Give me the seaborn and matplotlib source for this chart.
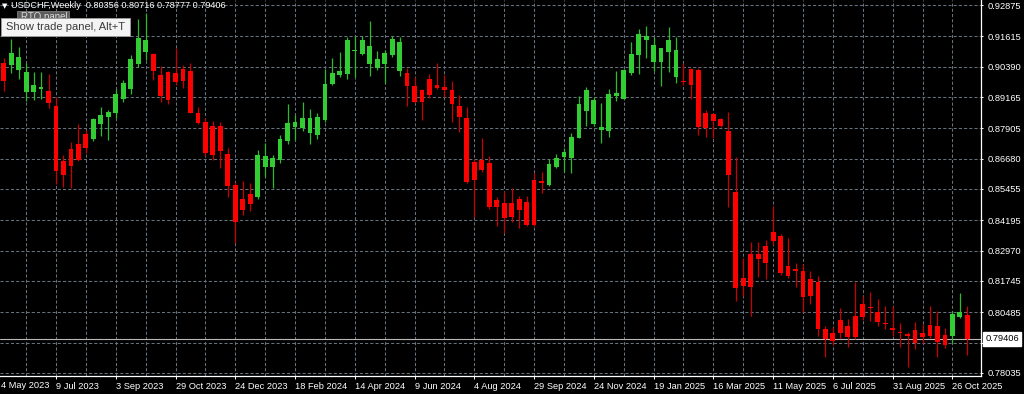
import matplotlib
matplotlib.use("Agg")
import numpy as np
import pandas as pd
import matplotlib.pyplot as plt
import seaborn as sns
from matplotlib.patches import Rectangle

# ---------------- data ----------------
symbol = "USDCHF"
timeframe = "Weekly"

week_index = list(range(-7, 123))

opens = [0.90524, 0.90456, 0.90254, 0.89379, 0.89379, 0.89476, 0.89407,
         0.88802, 0.86596, 0.87068, 0.87269, 0.87673, 0.87483, 0.88076, 0.88370,
         0.88508, 0.89104, 0.89476, 0.90496, 0.90992, 0.90887, 0.90052, 0.90193,
         0.90145, 0.90282, 0.90226, 0.88532, 0.88169, 0.88008, 0.88008, 0.86854,
         0.85616, 0.85043, 0.85253, 0.85120, 0.86354, 0.86354, 0.86624, 0.87403,
         0.87967, 0.87927, 0.87725, 0.87632, 0.88237, 0.89677, 0.90052, 0.90093,
         0.91020, 0.90899, 0.90496, 0.90347, 0.90496, 0.90859, 0.90226, 0.90145,
         0.89621, 0.89447, 0.89879, 0.89649, 0.89580, 0.89447, 0.88802, 0.88306,
         0.86556, 0.86624, 0.86491, 0.85011, 0.84902, 0.84902, 0.85039, 0.84942,
         0.85818, 0.85777, 0.85616, 0.86354, 0.86757, 0.86693, 0.87524, 0.88613,
         0.88076, 0.87834, 0.87794, 0.89205, 0.89096, 0.90121, 0.90859, 0.91464,
         0.90564, 0.90589, 0.90968, 0.89960, 0.89822, 0.90294, 0.90254, 0.88532,
         0.88467, 0.88278, 0.87774, 0.85346, 0.81853, 0.82833, 0.82833, 0.83156,
         0.83733, 0.83571, 0.82349, 0.82216, 0.82148, 0.81813, 0.81704, 0.79808,
         0.79659, 0.80171, 0.79929, 0.80345, 0.80817, 0.80708, 0.80482, 0.80063,
         0.79837, 0.79700, 0.79607, 0.79768, 0.79635, 0.79970, 0.79929, 0.79566,
         0.79538, 0.80305, 0.80356]

highs = [0.90750, 0.91504, 0.91194, 0.90548, 0.90161, 0.90185, 0.90081,
         0.89177, 0.86826, 0.87362, 0.88076, 0.87834, 0.88306, 0.88742, 0.88641,
         0.89500, 0.89851, 0.90859, 0.92311, 0.92553, 0.90927, 0.90427, 0.90214,
         0.91129, 0.90456, 0.90548, 0.88762, 0.88306, 0.88197, 0.88169, 0.87096,
         0.85749, 0.85765, 0.85685, 0.87027, 0.87322, 0.86826, 0.87632, 0.88883,
         0.88439, 0.88951, 0.88681, 0.88532, 0.90282, 0.90750, 0.90968, 0.91597,
         0.91625, 0.91625, 0.92242, 0.91020, 0.91060, 0.91625, 0.91573, 0.90322,
         0.89960, 0.89476, 0.90093, 0.90524, 0.90052, 0.89810, 0.89246, 0.88750,
         0.86652, 0.87499, 0.86786, 0.85120, 0.85374, 0.85483, 0.85184, 0.85172,
         0.86112, 0.86128, 0.86652, 0.86866, 0.87096, 0.87725, 0.89205, 0.89580,
         0.89153, 0.88911, 0.89476, 0.90214, 0.90282, 0.91395, 0.91895, 0.92028,
         0.91597, 0.91153, 0.92000, 0.91597, 0.90548, 0.90347, 0.90322, 0.88641,
         0.88532, 0.88306, 0.88572, 0.86733, 0.82672, 0.83337, 0.83337, 0.83410,
         0.84789, 0.83640, 0.83466, 0.82482, 0.82422, 0.82136, 0.81954, 0.79929,
         0.79901, 0.80643, 0.80200, 0.81692, 0.81151, 0.81313, 0.81006, 0.80748,
         0.80736, 0.80038, 0.79700, 0.80103, 0.79998, 0.80748, 0.80546, 0.79837,
         0.80546, 0.81248, 0.80716]

lows = [0.89407, 0.90121, 0.89879, 0.89004, 0.89044, 0.89096, 0.88733,
        0.85644, 0.85535, 0.85495, 0.86584, 0.86894, 0.87403, 0.87592, 0.87419,
        0.88330, 0.88955, 0.89286, 0.90387, 0.90657, 0.89851, 0.88975, 0.88883,
        0.89649, 0.89516, 0.88508, 0.88096, 0.86786, 0.86624, 0.86289, 0.85132,
        0.83265, 0.84406, 0.84567, 0.85063, 0.85951, 0.85507, 0.86515, 0.87269,
        0.87431, 0.87806, 0.87269, 0.87459, 0.88169, 0.89637, 0.89984, 0.89891,
        0.89960, 0.90859, 0.90024, 0.90254, 0.89742, 0.90790, 0.90012, 0.88802,
        0.88911, 0.88237, 0.89113, 0.89476, 0.89177, 0.88169, 0.87766, 0.85709,
        0.84313, 0.86152, 0.84648, 0.83962, 0.83668, 0.84136, 0.83894, 0.83974,
        0.83962, 0.85281, 0.85588, 0.86314, 0.86152, 0.86112, 0.87499, 0.87995,
        0.87995, 0.87322, 0.87564, 0.89004, 0.89072, 0.90040, 0.90081, 0.90750,
        0.90214, 0.89621, 0.90161, 0.89718, 0.89649, 0.89084, 0.87632, 0.87564,
        0.87499, 0.87967, 0.84741, 0.80938, 0.81139, 0.80345, 0.81918, 0.81813,
        0.83196, 0.81986, 0.81853, 0.81514, 0.80506, 0.80829, 0.79526, 0.78691,
        0.79163, 0.79458, 0.79070, 0.79405, 0.80171, 0.80143, 0.79929, 0.79808,
        0.79526, 0.79095, 0.78264, 0.78990, 0.79232, 0.79458, 0.78691, 0.79030,
        0.79232, 0.80264, 0.78777]

closes = [0.89810, 0.90927, 0.90790, 0.90161, 0.89649, 0.89580, 0.88911,
          0.86181, 0.86019, 0.86394, 0.86624, 0.87120, 0.88266, 0.88451, 0.88568,
          0.89286, 0.89742, 0.90698, 0.91532, 0.91464, 0.90226, 0.89205, 0.89044,
          0.89782, 0.89810, 0.88532, 0.88116, 0.86919, 0.86846, 0.86987, 0.85576,
          0.84112, 0.84608, 0.84838, 0.86826, 0.86798, 0.86693, 0.87471, 0.88104,
          0.88157, 0.88306, 0.88306, 0.88346, 0.89689, 0.90145, 0.90214, 0.91464,
          0.91060, 0.91464, 0.91234, 0.90685, 0.90927, 0.91504, 0.91395, 0.89621,
          0.88975, 0.88951, 0.89246, 0.89540, 0.89447, 0.88883, 0.88346, 0.85749,
          0.85818, 0.86241, 0.84741, 0.84717, 0.84297, 0.84337, 0.84608, 0.84003,
          0.84003, 0.85685, 0.86463, 0.86693, 0.86935, 0.87564, 0.88883, 0.89447,
          0.89044, 0.87967, 0.89286, 0.89338, 0.90254, 0.90899, 0.91694, 0.91625,
          0.91262, 0.91129, 0.91464, 0.91060, 0.89782, 0.89649, 0.87967, 0.87927,
          0.88197, 0.88008, 0.86019, 0.81474, 0.81555, 0.81514, 0.82632, 0.82458,
          0.83349, 0.82067, 0.81954, 0.82160, 0.81111, 0.81151, 0.79808, 0.79393,
          0.79337, 0.79659, 0.79474, 0.79474, 0.80280, 0.80667, 0.80103, 0.80010,
          0.79768, 0.79635, 0.79538, 0.79256, 0.79474, 0.79538, 0.79296, 0.79163,
          0.80413, 0.80482, 0.79406]

price_ticks = [0.92875, 0.91615, 0.90390, 0.89165, 0.87905, 0.86680, 0.85455,
               0.84195, 0.82970, 0.81745, 0.80485, 0.79260, 0.78035]
price_tick_labels = ["0.92875", "0.91615", "0.90390", "0.89165", "0.87905",
                     "0.86680", "0.85455", "0.84195", "0.82970", "0.81745",
                     "0.80485", "0.79260", "0.78035"]

date_tick_index = list(range(0, 121, 8))
date_tick_labels = ["9 Jul 2023", "3 Sep 2023", "29 Oct 2023", "24 Dec 2023",
                    "18 Feb 2024", "14 Apr 2024", "9 Jun 2024", "4 Aug 2024",
                    "29 Sep 2024", "24 Nov 2024", "19 Jan 2025", "16 Mar 2025",
                    "11 May 2025", "6 Jul 2025", "31 Aug 2025", "26 Oct 2025"]
first_date_label = "4 May 2023"
grid_minor_index = list(range(-4, 124, 8))

# ---------------- styling ----------------
sns.set_theme(style="dark", rc={"axes.facecolor": "black",
                                "figure.facecolor": "black"})
plt.rcParams["font.family"] = ["Liberation Sans", "DejaVu Sans"]

BULL = "#32CD32"
BEAR = "#FF0000"
BULL_WICK = "#2DBA2D"
BEAR_WICK = "#C80000"
GRID = "#66717F"
TXT = "white"
FS = 6.7

df = pd.DataFrame({"week": week_index, "open": opens, "high": highs,
                   "low": lows, "close": closes})
df["up"] = df["close"] >= df["open"]
df["body_low"] = df[["open", "close"]].min(axis=1)
df["body_h"] = (df["close"] - df["open"]).abs().clip(lower=0.00035)

W, H = 1024, 394
fig = plt.figure(figsize=(W / 100, H / 100), dpi=100, facecolor="black")
ax = fig.add_axes([0, 18 / H, 981 / W, 376 / H])
ax.set_facecolor("black")

# wicks
ax.vlines(df["week"], df["low"], df["high"],
          colors=np.where(df["up"], BULL_WICK, BEAR_WICK),
          linewidth=0.9, zorder=3)
# bodies
ax.bar(df["week"], df["body_h"], bottom=df["body_low"], width=0.64,
       color=np.where(df["up"], BULL, BEAR), linewidth=0,
       antialiased=False, zorder=4)

# current price line and label
last = closes[-1]
ax.axhline(last, color="#B8B8B8", linewidth=0.8, zorder=2)
ax.annotate(f"{last:.5f}", xy=(1, last), xycoords=("axes fraction", "data"),
            xytext=(3.2, 0), textcoords="offset points", ha="left",
            va="center", fontsize=FS, color="black",
            bbox=dict(boxstyle="square,pad=0.22", fc="white", ec="white"),
            annotation_clip=False, zorder=10)

ax.set_xlim(-7.497, 123.83)
ax.set_ylim(0.77913, 0.93077)

# axes / ticks
ax.yaxis.tick_right()
ax.set_yticks(price_ticks)
ax.set_yticklabels(price_tick_labels)
ax.set_xticks(date_tick_index)
ax.set_xticklabels(date_tick_labels)
ax.set_xticks(grid_minor_index, minor=True)
for lab in ax.get_xticklabels():
    lab.set_ha("left")
ax.tick_params(axis="y", which="major", length=1.5, width=0.7, color=TXT,
               pad=3.2, labelsize=FS, labelcolor=TXT, right=True, left=False)
ax.tick_params(axis="x", which="major", length=2.5, width=0.7, color=TXT,
               pad=1.6, labelsize=FS, labelcolor=TXT, bottom=True)
ax.tick_params(axis="x", which="minor", length=0, bottom=True)

ax.set_axisbelow(True)
ax.grid(True, which="both", axis="x", color=GRID, linestyle=(0, (3, 2)),
        linewidth=0.75)
ax.grid(True, which="major", axis="y", color=GRID, linestyle=(0, (3, 2)),
        linewidth=0.75)

for s in ("top", "left"):
    ax.spines[s].set_visible(False)
for s in ("right", "bottom"):
    ax.spines[s].set_visible(True)
    ax.spines[s].set_color("white")
    ax.spines[s].set_linewidth(0.9)

fig.text(1 / W, 1 - 385 / H, first_date_label, fontsize=FS, color=TXT,
         ha="left", va="center")

# header
fig.text(2 / W, 1 - 6 / H, "\u25BC", fontsize=5, color=TXT, ha="left",
         va="center", family="DejaVu Sans", zorder=8)
header = (f"{symbol},{timeframe}  {opens[-1]:.5f} {highs[-1]:.5f} "
          f"{lows[-1]:.5f} {closes[-1]:.5f}")
fig.text(11 / W, 1 - 6 / H, header, fontsize=6.6, color=TXT, ha="left",
         va="center", zorder=8)

# RTO panel button (partly hidden) and tooltip
fig.patches.append(Rectangle((17 / W, 1 - 24 / H), 52 / W, 13 / H,
                             transform=fig.transFigure, fc="#5C5C5C",
                             ec="#7A7A7A", lw=0.6, zorder=6))
fig.text(21 / W, 1 - 16.5 / H, "RTO panel", fontsize=7, color="#D8D8D8",
         ha="left", va="center", zorder=6.5)
fig.patches.append(Rectangle((0.5 / W, 1 - 36 / H), 129.5 / W, 18 / H,
                             transform=fig.transFigure, fc="#F4F4F4",
                             ec="#9A9A9A", lw=0.7, zorder=7))
fig.text(6 / W, 1 - 27 / H, "Show trade panel, Alt+T", fontsize=8,
         color="#3C3C3C", ha="left", va="center", zorder=7.5)

fig.savefig("out.png", dpi=100, facecolor="black")
